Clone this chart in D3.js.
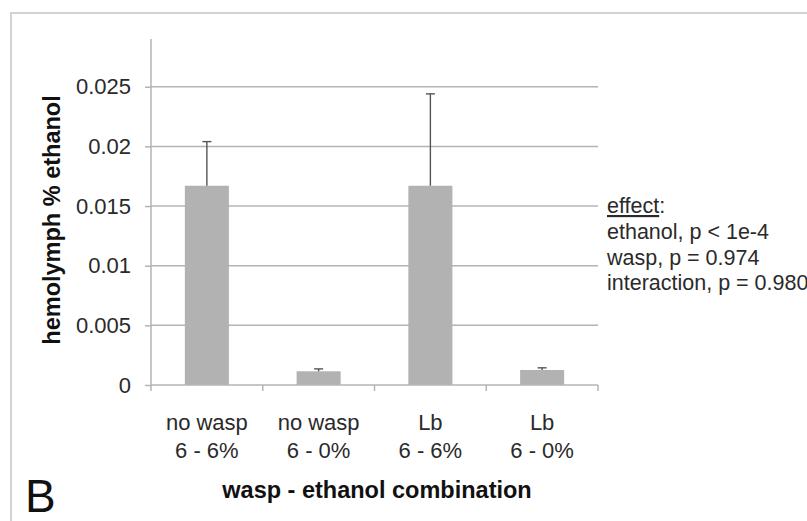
<!DOCTYPE html>
<html>
<head>
<meta charset="utf-8">
<script src="https://cdn.jsdelivr.net/npm/d3@7"></script>
<style>
  html, body { margin: 0; padding: 0; background: #fff; }
  svg { display: block; font-family: "Liberation Sans", Arial, Helvetica, sans-serif; }
</style>
</head>
<body>
<svg id="chart" width="807" height="521"></svg>
<script>
// Hemolymph ethanol by wasp / ethanol treatment
const waspLabels = ["no wasp", "no wasp", "Lb", "Lb"];
const ethanolLabels = ["6 - 6%", "6 - 0%", "6 - 6%", "6 - 0%"];
const means = [0.0167, 0.00115, 0.0167, 0.00126];
const errors = [0.0037, 0.0002, 0.0077, 0.00018];
const yTicks = [0, 0.005, 0.01, 0.015, 0.02, 0.025];
const yTickLabels = ["0", "0.005", "0.01", "0.015", "0.02", "0.025"];
const statsLines = ["ethanol, p < 1e-4", "wasp, p = 0.974", "interaction, p = 0.980"];

const svg = d3.select("#chart");

// outer panel frame
svg.append("rect")
  .attr("x", 11).attr("y", 13)
  .attr("width", 820).attr("height", 540)
  .attr("fill", "none")
  .attr("stroke", "#d2d2d2")
  .attr("stroke-width", 2);

const plot = { left: 151, right: 598, top: 39, bottom: 385 };
const idx = d3.range(means.length);

const x = d3.scaleBand()
  .domain(idx)
  .range([plot.left, plot.right])
  .padding(0);

const y = d3.scaleLinear()
  .domain([0, 0.029])
  .range([plot.bottom, plot.top]);

const gridColor = "#b4b4b4";

// horizontal gridlines
svg.append("g")
  .selectAll("line")
  .data(yTicks.filter(t => t > 0))
  .join("line")
  .attr("x1", plot.left).attr("x2", plot.right)
  .attr("y1", d => y(d)).attr("y2", d => y(d))
  .attr("stroke", gridColor)
  .attr("stroke-width", 1.5);

// y axis
const yAxis = d3.axisLeft(y)
  .tickValues(yTicks)
  .tickFormat((d, i) => yTickLabels[i])
  .tickSize(6)
  .tickPadding(14)
  .tickSizeOuter(0);

const gy = svg.append("g")
  .attr("transform", `translate(${plot.left},0)`)
  .call(yAxis);
gy.select(".domain").remove();
gy.selectAll(".tick line").attr("stroke", gridColor).attr("stroke-width", 1.5);
gy.selectAll(".tick text")
  .attr("font-size", 22)
  .attr("fill", "#2a2a2a")
  .attr("font-family", "'Liberation Sans', Arial, sans-serif");

svg.append("line")
  .attr("x1", plot.left).attr("x2", plot.left)
  .attr("y1", plot.top).attr("y2", plot.bottom)
  .attr("stroke", gridColor).attr("stroke-width", 1.5);

// bars
const barFrac = 0.394;
const barW = x.bandwidth() * barFrac;
const cx = i => x(i) + x.bandwidth() / 2;

svg.append("g")
  .selectAll("rect")
  .data(idx)
  .join("rect")
  .attr("x", i => cx(i) - barW / 2)
  .attr("y", i => y(means[i]))
  .attr("width", barW)
  .attr("height", i => y(0) - y(means[i]))
  .attr("fill", "#b2b2b2");

// upper error bars
const eb = svg.append("g")
  .attr("stroke", "#555")
  .attr("stroke-width", 1.4);
eb.selectAll("line.v")
  .data(idx)
  .join("line")
  .attr("class", "v")
  .attr("x1", cx).attr("x2", cx)
  .attr("y1", i => y(means[i]))
  .attr("y2", i => y(means[i] + errors[i]));
eb.selectAll("line.cap")
  .data(idx)
  .join("line")
  .attr("class", "cap")
  .attr("x1", i => cx(i) - 4.5).attr("x2", i => cx(i) + 4.5)
  .attr("y1", i => y(means[i] + errors[i]))
  .attr("y2", i => y(means[i] + errors[i]));

// x axis line and category dividers
svg.append("line")
  .attr("x1", plot.left).attr("x2", plot.right)
  .attr("y1", y(0)).attr("y2", y(0))
  .attr("stroke", gridColor).attr("stroke-width", 1.5);

const edges = idx.map(i => x(i)).concat([plot.right]);
svg.append("g")
  .selectAll("line")
  .data(edges)
  .join("line")
  .attr("x1", d => d).attr("x2", d => d)
  .attr("y1", y(0)).attr("y2", y(0) + 6)
  .attr("stroke", gridColor).attr("stroke-width", 1.5);

// category labels (two lines)
const catText = svg.append("g")
  .attr("font-size", 22)
  .attr("fill", "#2a2a2a")
  .attr("text-anchor", "middle");
catText.selectAll("text.l1")
  .data(idx)
  .join("text")
  .attr("class", "l1")
  .attr("x", cx).attr("y", 430)
  .text(i => waspLabels[i]);
catText.selectAll("text.l2")
  .data(idx)
  .join("text")
  .attr("class", "l2")
  .attr("x", cx).attr("y", 457.5)
  .text(i => ethanolLabels[i]);

// axis titles
svg.append("text")
  .attr("x", 377).attr("y", 498)
  .attr("text-anchor", "middle")
  .attr("font-size", 23.5)
  .attr("font-weight", "bold")
  .attr("fill", "#111")
  .text("wasp - ethanol combination");

svg.append("text")
  .attr("transform", "translate(60,220) rotate(-90)")
  .attr("text-anchor", "middle")
  .attr("font-size", 23.5)
  .attr("font-weight", "bold")
  .attr("fill", "#111")
  .text("hemolymph % ethanol");

// panel letter
svg.append("text")
  .attr("x", 25).attr("y", 512)
  .attr("font-size", 46)
  .attr("fill", "#111")
  .text("B");

// statistics note
const note = svg.append("text")
  .attr("x", 607).attr("y", 213)
  .attr("font-size", 21.5)
  .attr("fill", "#2a2a2a");
note.append("tspan")
  .attr("text-decoration", "underline")
  .text("effect");
note.append("tspan").text(":");
note.selectAll("tspan.line")
  .data(statsLines)
  .join("tspan")
  .attr("class", "line")
  .attr("x", 607)
  .attr("dy", 25.8)
  .text(d => d);
</script>
</body>
</html>
